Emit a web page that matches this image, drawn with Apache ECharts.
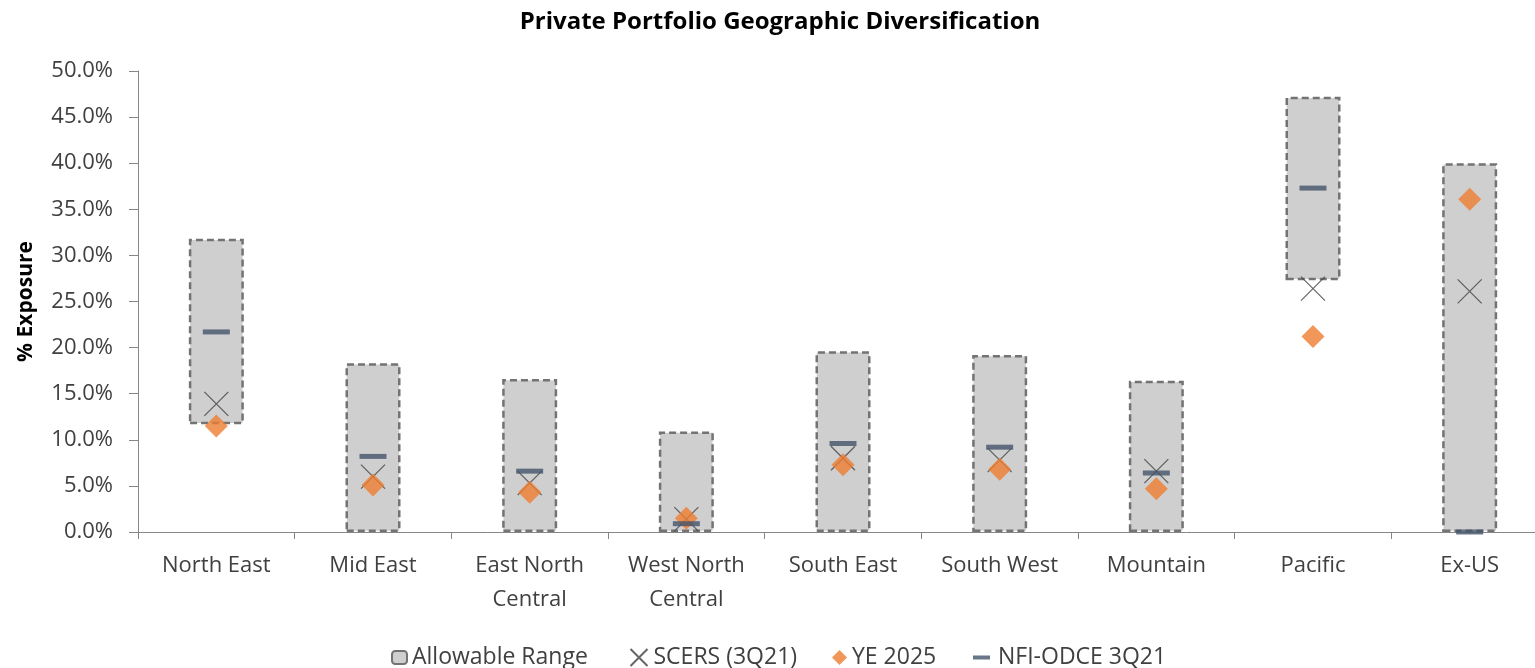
<!DOCTYPE html>
<html><head><meta charset="utf-8">
<script src="https://cdn.jsdelivr.net/npm/echarts@6/dist/echarts.min.js"></script>
<style>html,body{margin:0;padding:0;background:#fff}#c{width:1535px;height:668px}</style>
</head><body><div id="c"></div>
<script>
const categories = ['North East','Mid East','East North\nCentral','West North\nCentral','South East','South West','Mountain','Pacific','Ex-US'];
const rangeLow  = [11.7, 0, 0, 0, 0, 0, 0, 27.3, 0];
const rangeHigh = [31.8, 18.3, 16.6, 10.9, 19.6, 19.2, 16.4, 47.2, 40.0];
const scers     = [13.9, 6.0, 5.3, 1.4, 8.0, 7.8, 6.6, 26.4, 26.1];
const ye2025    = [11.5, 5.1, 4.3, 1.5, 7.3, 6.8, 4.7, 21.2, 36.1];
const nfi       = [21.7, 8.2, 6.6, 0.9, 9.6, 9.2, 6.4, 37.3, 0.0];
const yTicks = {min: 0, max: 50, interval: 5};

const FONT = 'Open Sans';
const XPATH = 'path://M0,0L10,10M10,0L0,10';
const rangeSpan = rangeHigh.map((h, i) => +(h - rangeLow[i]).toFixed(2));
const legTxt = (pad) => ({fontFamily: FONT, fontSize: 23, color: '#404040', padding: [0, 0, 0, pad]});
const LT = 646;
const chart = echarts.init(document.getElementById('c'));
chart.setOption({
  animation: false,
  textStyle: {fontFamily: FONT},
  title: {text: 'Private Portfolio Geographic Diversification', left: 775, textAlign: 'center', top: 5,
    textStyle: {fontFamily: FONT, fontSize: 24, fontWeight: 'bold', color: '#000'}},
  grid: {left: 138, top: 71, height: 461, width: 1410, outerBoundsMode: 'none', containLabel: false},
  legend: [
    {top: LT, left: 391, padding: 0, itemWidth: 15, itemHeight: 13, textStyle: legTxt(0),
      data: [{name: 'Allowable Range', icon: 'roundRect'}]},
    {top: LT, left: 628, padding: 0, itemWidth: 17, itemHeight: 17, textStyle: legTxt(1),
      data: [{name: 'SCERS (3Q21)', icon: XPATH}]},
    {top: LT, left: 832, padding: 0, itemWidth: 15, itemHeight: 15, textStyle: legTxt(0),
      data: [{name: 'YE 2025', icon: 'diamond'}]},
    {top: LT, left: 973, padding: 0, itemWidth: 17, itemHeight: 4, textStyle: legTxt(3),
      data: [{name: 'NFI-ODCE 3Q21', icon: 'rect'}]}
  ],
  xAxis: {type: 'category', data: categories,
    axisLine: {lineStyle: {color: '#868686', width: 1}},
    axisTick: {show: true, length: 7, lineStyle: {color: '#868686'}},
    axisLabel: {fontFamily: FONT, fontSize: 22, color: '#404040', margin: 17, lineHeight: 34}},
  yAxis: {type: 'value', min: yTicks.min, max: yTicks.max, interval: yTicks.interval,
    name: '% Exposure', nameLocation: 'middle', nameGap: 101,
    nameTextStyle: {fontFamily: FONT, fontSize: 21, fontWeight: 'bold', color: '#000'},
    axisLine: {show: true, lineStyle: {color: '#868686'}},
    axisTick: {show: true, length: 9, lineStyle: {color: '#868686'}},
    splitLine: {show: false},
    axisLabel: {fontFamily: FONT, fontSize: 22, color: '#404040', margin: 25,
      formatter: v => v.toFixed(1) + '%'}},
  series: [
    {name: 'base', type: 'bar', stack: 'r', data: rangeLow, barWidth: 55,
      itemStyle: {color: 'transparent'}, silent: true, legendHoverLink: false},
    {name: 'Allowable Range', type: 'bar', stack: 'r', data: rangeSpan, barWidth: 55,
      itemStyle: {color: '#d0cfd0', borderColor: '#737373', borderWidth: 2.5, borderType: [7, 4]}},
    {name: 'SCERS (3Q21)', type: 'scatter', data: scers, symbol: XPATH,
      symbolSize: 24, itemStyle: {color: 'none', borderColor: '#404040', borderWidth: 1.2}, z: 3},
    {name: 'YE 2025', type: 'scatter', data: ye2025, symbol: 'diamond', symbolSize: [23, 23],
      itemStyle: {color: '#ed7d31'}, z: 4},
    {name: 'NFI-ODCE 3Q21', type: 'scatter', data: nfi, symbol: 'rect', symbolSize: [27, 5],
      itemStyle: {color: '#44546a'}, z: 5}
  ]
});
</script></body></html>
